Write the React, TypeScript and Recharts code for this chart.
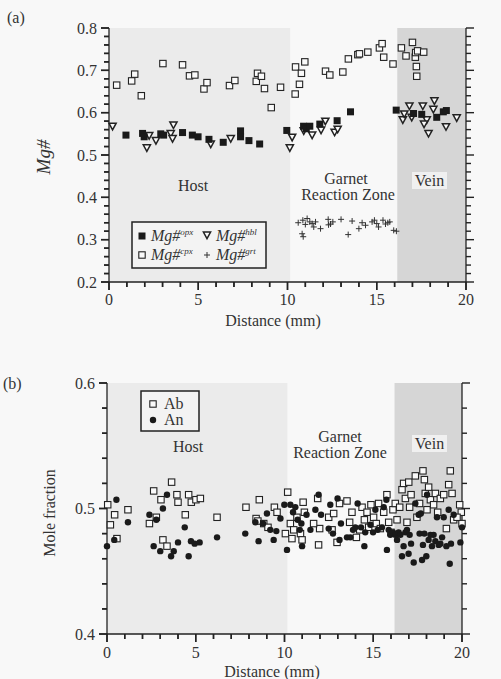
import React from 'react';
import { ScatterChart, Scatter, XAxis, YAxis, ReferenceArea, ReferenceLine } from 'recharts';

const FONT = '"Liberation Serif", "Times New Roman", serif';
const INK = '#222';

// ---------- Panel (a) data: [distance mm, Mg#] ----------
const mgOpx: [number, number][] = [
  [0.95, 0.547], [1.88, 0.551], [1.97, 0.543], [2.9, 0.55], [3.06, 0.547], [4.12, 0.553],
  [4.67, 0.547], [4.99, 0.543], [5.6, 0.537], [6.4, 0.53], [7.37, 0.557], [7.37, 0.543],
  [7.84, 0.534], [8.44, 0.526], [9.96, 0.558], [10.9, 0.568], [11.05, 0.562], [11.25, 0.568],
  [11.81, 0.573], [12.78, 0.581], [13.53, 0.602], [16.09, 0.606], [17.06, 0.598],
  [17.52, 0.596], [18.36, 0.589], [18.73, 0.602], [18.9, 0.605],
];
const mgCpx: [number, number][] = [
  [0.43, 0.665], [1.27, 0.675], [1.44, 0.691], [1.81, 0.64], [3.02, 0.716], [4.12, 0.713],
  [4.51, 0.687], [4.81, 0.689], [5.32, 0.656], [5.49, 0.671], [6.75, 0.664], [7.05, 0.676],
  [8.25, 0.674], [8.32, 0.693], [8.54, 0.686], [8.71, 0.657], [9.09, 0.612], [9.61, 0.66],
  [10.43, 0.644], [10.45, 0.708], [10.67, 0.667], [10.78, 0.693], [10.97, 0.72], [12.13, 0.698],
  [12.37, 0.689], [13.1, 0.696], [13.41, 0.727], [13.94, 0.737], [14.03, 0.739], [14.5, 0.743],
  [15.15, 0.753], [15.3, 0.763], [15.39, 0.731], [15.91, 0.715], [16.38, 0.753], [16.64, 0.734],
  [17.0, 0.766], [17.16, 0.731], [17.18, 0.742], [17.22, 0.709], [17.24, 0.686], [17.29, 0.746],
  [17.63, 0.743],
];
const mgHbl: [number, number][] = [
  [0.2, 0.568], [2.12, 0.517], [2.25, 0.546], [2.63, 0.534], [3.46, 0.551], [3.61, 0.571],
  [3.56, 0.539], [5.7, 0.526], [6.82, 0.539], [10.13, 0.517], [10.26, 0.542], [10.91, 0.557],
  [11.38, 0.547], [11.88, 0.559], [12.12, 0.58], [12.64, 0.554], [12.81, 0.561], [16.46, 0.583],
  [16.54, 0.597], [16.83, 0.616], [16.96, 0.589], [17.58, 0.616], [17.8, 0.583], [17.65, 0.573],
  [17.9, 0.551], [18.23, 0.628], [18.17, 0.608], [18.88, 0.567], [19.48, 0.588],
];
const mgGrt: [number, number][] = [
  [10.6, 0.34], [10.86, 0.346], [11.1, 0.35], [11.25, 0.342], [11.38, 0.338], [11.57, 0.342],
  [11.47, 0.33], [11.85, 0.326], [10.82, 0.314], [10.88, 0.307], [12.28, 0.348], [12.41, 0.337],
  [12.54, 0.342], [13.0, 0.348], [13.4, 0.312], [13.62, 0.344], [14.0, 0.326], [14.18, 0.34],
  [14.37, 0.334], [14.74, 0.342], [14.87, 0.346], [15.0, 0.338], [15.1, 0.33], [15.35, 0.346],
  [15.49, 0.337], [15.62, 0.34], [15.73, 0.342], [15.95, 0.322], [16.1, 0.32], [12.3, 0.335],
  [11.0, 0.336],
];

// ---------- Panel (b) data: [distance mm, mole fraction] ----------
const ab: [number, number][] = [
  [0.04, 0.503], [0.19, 0.487], [0.43, 0.495], [0.56, 0.476], [1.18, 0.499], [2.39, 0.488],
  [2.63, 0.514], [2.78, 0.493], [3.04, 0.507], [3.15, 0.475], [3.38, 0.47], [3.64, 0.521],
  [3.94, 0.511], [4.0, 0.505], [4.41, 0.495], [4.6, 0.511], [4.75, 0.505], [5.01, 0.507],
  [5.26, 0.508], [6.2, 0.493], [7.83, 0.501], [8.58, 0.507], [8.4, 0.492], [8.5, 0.49],
  [8.83, 0.488], [9.07, 0.485], [9.43, 0.501], [9.58, 0.497], [10.05, 0.48], [10.18, 0.513],
  [10.33, 0.488], [10.42, 0.476], [10.52, 0.483], [10.7, 0.493], [10.9, 0.48], [10.99, 0.475],
  [11.12, 0.497], [11.05, 0.505], [11.87, 0.508], [11.92, 0.471], [11.98, 0.484], [11.64, 0.488],
  [12.49, 0.493], [12.68, 0.483], [12.77, 0.496], [12.96, 0.473], [13.1, 0.504], [13.52, 0.506],
  [13.67, 0.489], [13.8, 0.497], [14.05, 0.477], [14.24, 0.483], [14.37, 0.501], [14.5, 0.491],
  [14.65, 0.497], [14.74, 0.485], [14.87, 0.503], [15.02, 0.493], [15.17, 0.488], [15.3, 0.504],
  [15.4, 0.484], [15.59, 0.497], [15.77, 0.511], [15.87, 0.489], [16.0, 0.481], [16.11, 0.499],
  [16.24, 0.504], [16.34, 0.491], [16.49, 0.501], [16.62, 0.515], [16.71, 0.52], [16.81, 0.508],
  [16.9, 0.489], [17.0, 0.521], [17.05, 0.501], [17.13, 0.511], [17.37, 0.526], [17.46, 0.493],
  [17.61, 0.504], [17.8, 0.53], [17.88, 0.523], [17.93, 0.512], [18.03, 0.499], [18.12, 0.517],
  [18.22, 0.507], [18.4, 0.503], [18.5, 0.512], [18.63, 0.497], [18.78, 0.508], [18.97, 0.511],
  [19.12, 0.484], [19.25, 0.519], [19.34, 0.53], [19.44, 0.512], [19.53, 0.491], [19.87, 0.503],
  [19.96, 0.497], [20.0, 0.488], [19.72, 0.493],
];
const an: [number, number][] = [
  [0.0, 0.47], [0.53, 0.507], [0.41, 0.475], [1.18, 0.489], [2.39, 0.495], [2.63, 0.47],
  [2.78, 0.491], [3.0, 0.466], [3.15, 0.5], [3.38, 0.511], [3.61, 0.462], [3.76, 0.466],
  [4.0, 0.473], [4.38, 0.485], [4.6, 0.462], [4.73, 0.474], [4.94, 0.472], [5.22, 0.473],
  [6.2, 0.477], [7.79, 0.48], [8.36, 0.489], [8.54, 0.474], [8.79, 0.488], [9.01, 0.496],
  [9.2, 0.483], [9.39, 0.475], [9.54, 0.482], [9.77, 0.492], [9.99, 0.503], [10.14, 0.467],
  [10.33, 0.503], [10.48, 0.497], [10.61, 0.501], [10.74, 0.491], [10.86, 0.483], [10.95, 0.488],
  [10.99, 0.47], [11.24, 0.495], [11.46, 0.483], [11.74, 0.499], [11.92, 0.511], [12.06, 0.495],
  [12.49, 0.484], [12.58, 0.503], [12.73, 0.48], [12.99, 0.508], [13.1, 0.475], [13.18, 0.488],
  [13.52, 0.477], [13.71, 0.477], [13.86, 0.483], [13.99, 0.485], [14.12, 0.504], [14.31, 0.485],
  [14.5, 0.47], [14.55, 0.481], [14.84, 0.487], [14.99, 0.481], [15.12, 0.499], [15.25, 0.483],
  [15.49, 0.485], [15.59, 0.501], [15.74, 0.507], [15.77, 0.467], [15.87, 0.483], [15.96, 0.479],
  [16.11, 0.481], [16.24, 0.479], [16.34, 0.475], [16.43, 0.481], [16.53, 0.479], [16.62, 0.462],
  [16.71, 0.47], [16.81, 0.481], [16.9, 0.483], [16.99, 0.464], [17.05, 0.479], [17.13, 0.472],
  [17.28, 0.457], [17.37, 0.504], [17.56, 0.495], [17.61, 0.48], [17.68, 0.496], [17.75, 0.459],
  [17.8, 0.471], [17.88, 0.48], [17.99, 0.462], [18.03, 0.511], [18.12, 0.475], [18.22, 0.479],
  [18.31, 0.47], [18.4, 0.479], [18.5, 0.474], [18.59, 0.493], [18.69, 0.471], [18.78, 0.472],
  [18.88, 0.477], [18.97, 0.493], [19.12, 0.47], [19.25, 0.499], [19.31, 0.456], [19.38, 0.472],
  [19.53, 0.495], [19.91, 0.473], [20.0, 0.485],
];

// ---------- Axis ticks ----------
const xTicks = [0, 1, 2, 3, 4, 5, 6, 7, 8, 9, 10, 11, 12, 13, 14, 15, 16, 17, 18, 19, 20];
const xLabels = [0, 5, 10, 15, 20];
const yLabelsA = [0.2, 0.3, 0.4, 0.5, 0.6, 0.7, 0.8];
const yLabelsB = [0.4, 0.5, 0.6];
const tickRange = (lo: number, hi: number, step: number) => {
  const out: number[] = [];
  const n = Math.round((hi - lo) / step);
  for (let i = 0; i <= n; i++) out.push(Number((lo + i * step).toFixed(4)));
  return out;
};
const yTicksA = tickRange(0.2, 0.8, 0.02);
const yTicksB = tickRange(0.4, 0.6, 0.02);

const isLabel = (v: number, labels: number[]) => labels.some((l) => Math.abs(l - v) < 1e-6);
const toPts = (arr: [number, number][]) => arr.map(([x, y]) => ({ x, y }));

const MINOR = 5;
const MAJOR = 8;
const TW = 1.5;

// ---------- Tick label components ----------
const TickXA = (p: any) => {
  const v = p.payload.value;
  const major = xLabels.includes(v);
  const x = Number(p.x);
  const y = Number(p.y);
  return (
    <g>
      <rect x={x - TW / 2} y={y} width={TW} height={major ? MAJOR : MINOR} fill={INK} />
      {major && (
        <text x={x} y={y + 23} textAnchor="middle" fontFamily={FONT} fontSize={16} fill="#333">
          {v}
        </text>
      )}
    </g>
  );
};
const TickXB = (p: any) => {
  const v = p.payload.value;
  const major = xLabels.includes(v);
  const x = Number(p.x);
  const y = Number(p.y);
  return (
    <g>
      <rect x={x - TW / 2} y={y} width={TW} height={major ? MAJOR : MINOR} fill={INK} />
      {major && (
        <text x={x} y={y + 24} textAnchor="middle" fontFamily={FONT} fontSize={16} fill="#333">
          {v}
        </text>
      )}
    </g>
  );
};
const yTickBody = (p: any, labels: number[], left: boolean) => {
  const v = p.payload.value;
  const major = isLabel(v, labels);
  const x = Number(p.x);
  const y = Number(p.y);
  const len = major ? MAJOR : MINOR;
  return (
    <g>
      <rect x={left ? x - len : x} y={y - TW / 2} width={len} height={TW} fill={INK} />
      {major && (
        <text
          x={left ? x - 12 : x + 12}
          y={y + 5.5}
          textAnchor={left ? 'end' : 'start'}
          fontFamily={FONT}
          fontSize={16}
          fill="#333"
        >
          {v.toFixed(1)}
        </text>
      )}
    </g>
  );
};
const TickYAL = (p: any) => yTickBody(p, yLabelsA, true);
const TickYAR = (p: any) => yTickBody(p, yLabelsA, false);
const TickYBL = (p: any) => yTickBody(p, yLabelsB, true);
const TickYBR = (p: any) => yTickBody(p, yLabelsB, false);

// ---------- Tick marks as reference segments (lengths in data units ≈ 5 / 8 px) ----------
const tickMarks = (
  key: string,
  xMin: number,
  xMax: number,
  yMin: number,
  yTicks: number[],
  yLabels: number[],
  pxX: number,
  pxY: number,
) => {
  const out: React.ReactNode[] = [];
  xTicks.forEach((v) => {
    const len = (xLabels.includes(v) ? MAJOR : MINOR) * pxY;
    out.push(
      <ReferenceLine
        key={`${key}x${v}`}
        yAxisId="l"
        segment={[{ x: v, y: yMin }, { x: v, y: yMin - len }]}
        stroke={INK}
        strokeWidth={1.4}
        ifOverflow="visible"
      />,
    );
  });
  yTicks.forEach((v) => {
    const len = (isLabel(v, yLabels) ? MAJOR : MINOR) * pxX;
    out.push(
      <ReferenceLine
        key={`${key}l${v}`}
        yAxisId="l"
        segment={[{ x: xMin, y: v }, { x: xMin - len, y: v }]}
        stroke={INK}
        strokeWidth={1.4}
        ifOverflow="visible"
      />,
    );
    out.push(
      <ReferenceLine
        key={`${key}r${v}`}
        yAxisId="l"
        segment={[{ x: xMax, y: v }, { x: xMax + len, y: v }]}
        stroke={INK}
        strokeWidth={1.4}
        ifOverflow="visible"
      />,
    );
  });
  return out;
};

// ---------- Marker shapes ----------
const FilledSquare = (p: any) => <rect x={p.cx - 3.5} y={p.cy - 3.5} width={7} height={7} fill="#1a1a1a" />;
const OpenSquare = (p: any) => (
  <rect x={p.cx - 3.2} y={p.cy - 3.2} width={6.4} height={6.4} fill="#fafafa" stroke={INK} strokeWidth={1.1} />
);
const TriDown = (p: any) => (
  <polygon
    points={`${p.cx - 3.6},${p.cy - 3} ${p.cx + 3.6},${p.cy - 3} ${p.cx},${p.cy + 3.6}`}
    fill="#fafafa"
    stroke={INK}
    strokeWidth={1.5}
  />
);
const Plus = (p: any) => (
  <g stroke="#333" strokeWidth={1}>
    <line x1={p.cx - 3} x2={p.cx + 3} y1={p.cy} y2={p.cy} />
    <line x1={p.cx} x2={p.cx} y1={p.cy - 3} y2={p.cy + 3} />
  </g>
);
const Dot = (p: any) => <circle cx={p.cx} cy={p.cy} r={3.2} fill="#1a1a1a" />;

const HOST = '#ebebeb';
const VEIN = '#d6d6d6';
const axisLine = { stroke: INK, strokeWidth: 1.3 };

const ChartA = () => (
  <ScatterChart width={501} height={330} margin={{ top: 28, right: 0, bottom: 8, left: 59 }}>
    <XAxis type="number" dataKey="x" domain={[0, 20]} ticks={xTicks} interval={0} height={40}
      tickLine={false} tickSize={0} tickMargin={0} axisLine={axisLine} tick={TickXA} />
    <YAxis yAxisId="l" type="number" dataKey="y" domain={[0.2, 0.8]} ticks={yTicksA} interval={0} width={50}
      tickLine={false} tickSize={0} tickMargin={0} axisLine={axisLine} tick={TickYAL} />
    <YAxis yAxisId="r" orientation="right" type="number" domain={[0.2, 0.8]} ticks={yTicksA} interval={0} width={35}
      tickLine={false} tickSize={0} tickMargin={0} axisLine={axisLine} tick={TickYAR} />
    <ReferenceArea yAxisId="l" x1={0} x2={10.15} y1={0.2} y2={0.8} fill={HOST} fillOpacity={1} stroke="none" />
    <ReferenceArea yAxisId="l" x1={16.15} x2={20} y1={0.2} y2={0.8} fill={VEIN} fillOpacity={1} stroke="none" />
    {tickMarks('a', 0, 20, 0.2, yTicksA, yLabelsA, 20 / 357, 0.6 / 254)}
    <Scatter yAxisId="l" data={toPts(mgCpx)} shape={OpenSquare} isAnimationActive={false} />
    <Scatter yAxisId="l" data={toPts(mgHbl)} shape={TriDown} isAnimationActive={false} />
    <Scatter yAxisId="l" data={toPts(mgOpx)} shape={FilledSquare} isAnimationActive={false} />
    <Scatter yAxisId="l" data={toPts(mgGrt)} shape={Plus} isAnimationActive={false} />
  </ScatterChart>
);

const ChartB = () => (
  <ScatterChart width={501} height={339} margin={{ top: 43, right: 0, bottom: 5, left: 57 }}>
    <XAxis type="number" dataKey="x" domain={[0, 20]} ticks={xTicks} interval={0} height={40}
      tickLine={false} tickSize={0} tickMargin={0} axisLine={axisLine} tick={TickXB} />
    <YAxis yAxisId="l" type="number" dataKey="y" domain={[0.4, 0.6]} ticks={yTicksB} interval={0} width={50}
      tickLine={false} tickSize={0} tickMargin={0} axisLine={axisLine} tick={TickYBL} />
    <YAxis yAxisId="r" orientation="right" type="number" domain={[0.4, 0.6]} ticks={yTicksB} interval={0} width={39}
      tickLine={false} tickSize={0} tickMargin={0} axisLine={axisLine} tick={TickYBR} />
    <ReferenceArea yAxisId="l" x1={0} x2={10.16} y1={0.4} y2={0.6} fill={HOST} fillOpacity={1} stroke="none" />
    <ReferenceArea yAxisId="l" x1={16.2} x2={20} y1={0.4} y2={0.6} fill={VEIN} fillOpacity={1} stroke="none" />
    {tickMarks('b', 0, 20, 0.4, yTicksB, yLabelsB, 20 / 355, 0.2 / 251)}
    <Scatter yAxisId="l" data={toPts(ab)} shape={OpenSquare} isAnimationActive={false} />
    <Scatter yAxisId="l" data={toPts(an)} shape={Dot} isAnimationActive={false} />
  </ScatterChart>
);

const T = (props: any) => <text fontFamily={FONT} fontSize={16} fill="#333" {...props} />;

const MgLabel = ({ x, y, sup }: { x: number; y: number; sup: string }) => (
  <text x={x} y={y} fontFamily={FONT} fill="#333">
    <tspan fontSize={16} fontStyle="italic">Mg#</tspan>
    <tspan fontSize={9} dy={-6} fontStyle="italic">{sup}</tspan>
  </text>
);

const Overlay = () => (
  <svg width={501} height={679} style={{ position: 'absolute', left: 0, top: 0, pointerEvents: 'none' }}>
    <T x={7} y={23}>(a)</T>
    <T x={3} y={389}>(b)</T>
    <text transform="translate(50,157) rotate(-90)" textAnchor="middle" fontFamily={FONT} fontSize={19} fontStyle="italic" fill="#333">
      Mg#
    </text>
    <T x={273} y={326} textAnchor="middle">Distance (mm)</T>
    <T transform="translate(55,513) rotate(-90)" textAnchor="middle">Mole fraction</T>
    <T x={272} y={677} textAnchor="middle">Distance (mm)</T>
    <T x={193} y={191} textAnchor="middle">Host</T>
    <T x={346} y={184} textAnchor="middle">Garnet</T>
    <T x={348} y={200} textAnchor="middle">Reaction Zone</T>
    <rect x={412} y={172} width={35} height={17} fill="#f0f0f0" />
    <T x={429.5} y={186} textAnchor="middle">Vein</T>
    <T x={188} y={452} textAnchor="middle">Host</T>
    <T x={340} y={442} textAnchor="middle">Garnet</T>
    <T x={340} y={458} textAnchor="middle">Reaction Zone</T>
    <rect x={412} y={435} width={35} height={17} fill="#f0f0f0" />
    <T x={429.5} y={449} textAnchor="middle">Vein</T>
    <rect x={132} y={222} width={134} height={46} fill="#f3f3f3" stroke={INK} strokeWidth={1.5} />
    {FilledSquare({ cx: 142, cy: 236 })}
    <MgLabel x={151} y={241} sup="opx" />
    {TriDown({ cx: 207, cy: 235 })}
    <MgLabel x={216} y={241} sup="hbl" />
    {OpenSquare({ cx: 142, cy: 255 })}
    <MgLabel x={151} y={260} sup="cpx" />
    {Plus({ cx: 207, cy: 255 })}
    <MgLabel x={216} y={260} sup="grt" />
    <rect x={141} y={391} width={58} height={40} fill="#f3f3f3" stroke={INK} strokeWidth={1.5} />
    {OpenSquare({ cx: 153, cy: 404 })}
    <T x={164} y={409}>Ab</T>
    {Dot({ cx: 153, cy: 420 })}
    <T x={164} y={425}>An</T>
  </svg>
);

export default function App() {
  return (
    <div style={{ position: 'absolute', left: 0, top: 0, width: 501, height: 679, background: '#f8f8f8' }}>
      <div style={{ position: 'absolute', left: 0, top: 0 }}>
        <ChartA />
      </div>
      <div style={{ position: 'absolute', left: 0, top: 340 }}>
        <ChartB />
      </div>
      <Overlay />
    </div>
  );
}
